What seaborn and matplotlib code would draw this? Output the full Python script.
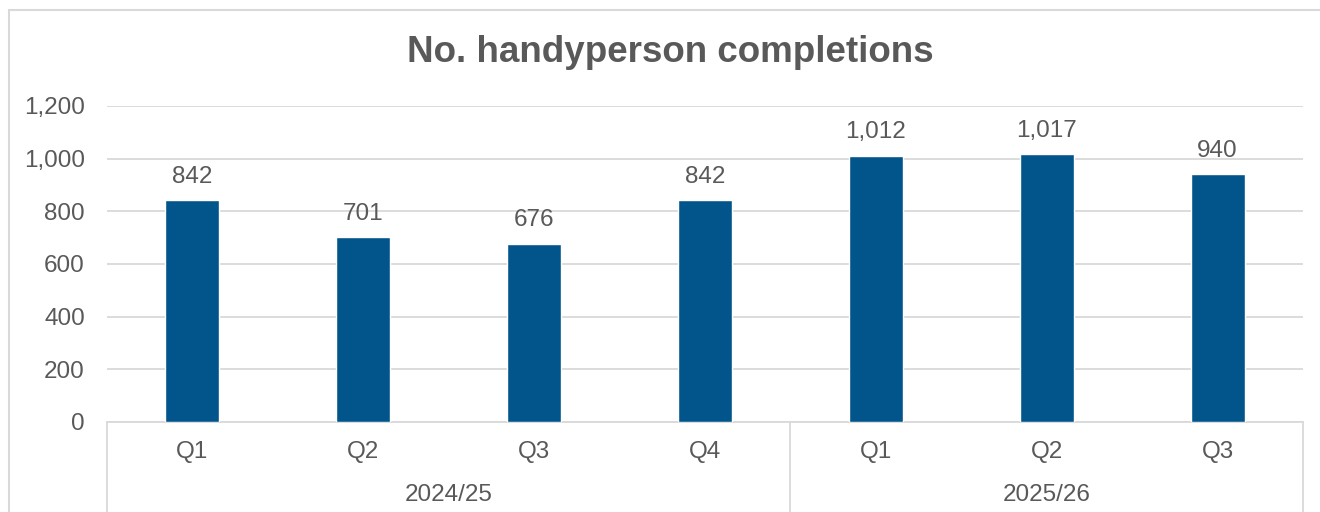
import matplotlib
matplotlib.use("Agg")
import matplotlib.pyplot as plt
import matplotlib.transforms as mtransforms
from matplotlib.patches import Rectangle
import seaborn as sns
import pandas as pd

# Quarterly handyperson completions
years = ["2024/25", "2024/25", "2024/25", "2024/25", "2025/26", "2025/26", "2025/26"]
quarters = ["Q1", "Q2", "Q3", "Q4", "Q1", "Q2", "Q3"]
completions = [842, 701, 676, 842, 1012, 1017, 940]
year_groups = ["2024/25", "2025/26"]

y_ticks = [0, 200, 400, 600, 800, 1000, 1200]

BAR = "#02558B"
TEXT = "#595959"
GRID = "#D9D9D9"
FS = 17.5

sns.set_theme(style="white")
plt.rcParams["font.family"] = ["Liberation Sans", "DejaVu Sans"]

df = pd.DataFrame({
    "period": [f"{y} {q}" for y, q in zip(years, quarters)],
    "year": years,
    "quarter": quarters,
    "value": completions,
})

fig = plt.figure(figsize=(13.2, 5.12), dpi=100)
ax = fig.add_axes([107 / 1320, 1 - 422 / 512, (1303 - 107) / 1320, (422 - 106) / 512])

sns.barplot(data=df, x="period", y="value", color=BAR, width=0.316,
            saturation=1, ax=ax, zorder=3)

ax.set_ylim(0, 1200)
ax.set_xlim(-0.5, len(df) - 0.5)
ax.set_yticks(y_ticks)
ax.set_yticklabels([f"{v:,}" for v in y_ticks])
ax.yaxis.grid(True, color=GRID, linewidth=1.3, zorder=0)
ax.set_axisbelow(True)
for s in ["top", "right", "left"]:
    ax.spines[s].set_visible(False)
ax.spines["bottom"].set_color(GRID)
ax.spines["bottom"].set_linewidth(1.3)
ax.tick_params(axis="y", length=0, pad=16, labelsize=FS, labelcolor=TEXT)
ax.tick_params(axis="x", length=0, pad=13.5, labelsize=FS, labelcolor=TEXT)
ax.set_xticks(range(len(df)))
ax.set_xticklabels(quarters)
ax.set_xlabel("")
ax.set_ylabel("")

# value labels above each bar
for i, v in enumerate(completions):
    ax.annotate(f"{v:,}", (i, v), xytext=(0, 9), textcoords="offset points",
                ha="center", va="bottom", fontsize=FS, color=TEXT)

# year grouping on the category axis
trans = mtransforms.blended_transform_factory(ax.transData, ax.transAxes)
bounds = [-0.5]
pos = 0
for yg in year_groups:
    n = years.count(yg)
    ax.text(pos + (n - 1) / 2, -0.232, yg, transform=trans, ha="center",
            va="center", fontsize=FS, color=TEXT)
    pos += n
    bounds.append(pos - 0.5)
for b in bounds:
    ax.plot([b, b], [0, -0.5], transform=trans, color=GRID, linewidth=1.3,
            clip_on=False, zorder=1)

fig.text(670 / 1320, 1 - 53 / 512, "No. handyperson completions", ha="center",
         va="center", fontsize=26.5, fontweight="bold", color=TEXT)

# outer chart border
fig.add_artist(Rectangle((8.5 / 1320, -0.1), 1.2, 1 - 9.5 / 512 + 0.1,
                         transform=fig.transFigure, fill=False,
                         edgecolor=GRID, linewidth=1.5))

fig.savefig("out.png", dpi=100, facecolor="white")
